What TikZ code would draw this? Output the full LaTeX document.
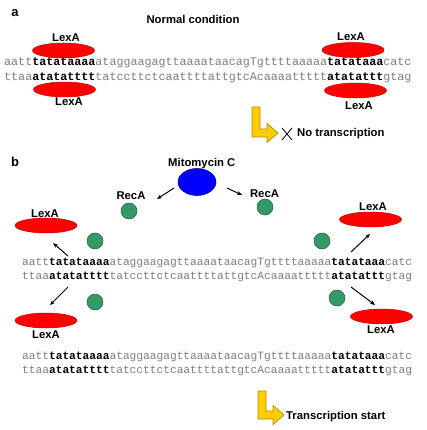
\documentclass[tikz,border=0pt]{standalone}
\usepackage{fontspec}
\setmainfont{Liberation Sans}
\setmonofont{Liberation Mono}
\usetikzlibrary{shapes.geometric,arrows.meta}
\definecolor{lexred}{HTML}{FF0000}
\definecolor{lexredd}{HTML}{C00000}
\definecolor{mitoblue}{HTML}{0000FF}
\definecolor{mitoblued}{HTML}{000099}
\definecolor{recgreen}{HTML}{339966}
\definecolor{recgreend}{HTML}{1E5E3E}
\definecolor{arrowyellow}{HTML}{FFCC00}
\definecolor{arrowyellowd}{HTML}{B38F00}
\definecolor{seqgray}{HTML}{7F7F7F}
\newcommand\bb[1]{\textbf{\color{black}#1}}
\tikzset{
  lexa/.style={ellipse, fill=lexred, draw=lexredd, line width=0.5pt, minimum width=62pt, minimum height=15pt, inner sep=0pt},
  recbead/.style={circle, fill=recgreen, draw=recgreend, line width=0.5pt, minimum size=16pt, inner sep=0pt},
  mito/.style={ellipse, fill=mitoblue, draw=mitoblued, line width=0.5pt, minimum width=38pt, minimum height=27pt, inner sep=0pt},
  lbl/.style={font=\fontsize{11.3}{13}\selectfont\bfseries, inner sep=0pt, anchor=base},
  panel/.style={font=\fontsize{13}{15}\selectfont\bfseries, inner sep=0pt, anchor=base},
  seqa/.style={font=\fontsize{11.7}{13}\selectfont\ttfamily, text=seqgray, inner sep=0pt, anchor=mid west},
  seqb/.style={font=\fontsize{11.2}{13}\selectfont\ttfamily, text=seqgray, inner sep=0pt, anchor=mid west},
  moveto/.style={draw=black, line width=1pt, -{Stealth[length=5pt,width=4pt]}},
  bentarrow/.style={fill=arrowyellow, draw=arrowyellowd, line width=0.7pt, line join=miter},
}
\begin{document}
\begin{tikzpicture}[x=1pt,y=-1pt]
\useasboundingbox (0,0) rectangle (426,430);
\fill[white] (0,0) rectangle (426,430);

% ---------- panel a ----------
\node[panel] (pa) at (15,17) {a};
\node[lbl] (normal) at (193,24) {Normal condition};

\node[lexa] (aTL) at (63.5,50.5) {};
\node[lexa] (aBL) at (64.5,89.5) {};
\node[lexa] (aTR) at (353,50) {};
\node[lexa] (aBR) at (355.5,90.5) {};
\node[lbl] (laTL) at (66,42) {LexA};
\node[lbl] (laBL) at (69,106) {LexA};
\node[lbl] (laTR) at (351,40.5) {LexA};
\node[lbl] (laBR) at (359,110) {LexA};

\node[seqa] (sa1) at (4,63) {aatt\bb{tatataaaa}ataggaagagttaaaataacagTgttttaaaaa\bb{tatataaa}catc};
\node[seqa] (sa2) at (4,78) {ttaa\bb{atatatttt}tatccttctcaattttattgtcAcaaaattttt\bb{atatattt}gtag};

\draw[bentarrow] (252,107) -- (260,107) -- (260,129) -- (267,129) -- (267,123.5)
  -- (278,133) -- (267,142.5) -- (267,137) -- (252,137) -- cycle;
\coordinate (xa) at (282,128);
\coordinate (xb) at (292,140);
\coordinate (xc) at (282,140);
\coordinate (xd) at (292,128);
\draw[line width=0.8pt] (xa) -- (xb);
\draw[line width=0.8pt] (xc) -- (xd);
\node[lbl, anchor=base west] (notr) at (297,137) {No transcription};

% ---------- panel b ----------
\node[panel] (pb) at (15,167) {b};
\node[lbl, anchor=base west] (mitoc) at (168,167) {Mitomycin C};
\node[mito] (blue) at (197,182) {};

\node[lbl] (recL) at (131,199) {RecA};
\node[lbl] (recR) at (264.5,197) {RecA};
\node[recbead] (gL) at (129,211) {};
\node[recbead] (gR) at (265,207) {};
\node[recbead] (gML) at (95,241) {};
\node[recbead] (gMR) at (322,241) {};
\node[recbead] (gBL) at (95,302) {};
\node[recbead] (gBR) at (337,298) {};

\node[lexa] (bTL) at (46,225.5) {};
\node[lexa] (bTR) at (370.5,219.5) {};
\node[lexa] (bBL) at (46,320.5) {};
\node[lexa] (bBR) at (381.5,316.5) {};
\node[lbl] (lbTL) at (45,217) {LexA};
\node[lbl] (lbTR) at (373,210) {LexA};
\node[lbl] (lbBL) at (46,338) {LexA};
\node[lbl] (lbBR) at (381,333.5) {LexA};

\node[seqb] (sb1) at (22,263) {aatt\bb{tatataaaa}ataggaagagttaaaataacagTgttttaaaaa\bb{tatataaa}catc};
\node[seqb] (sb2) at (22,277) {ttaa\bb{atatatttt}tatccttctcaattttattgtcAcaaaattttt\bb{atatattt}gtag};

\coordinate (m1s) at (174,188); \coordinate (m1e) at (157,199);
\coordinate (m2s) at (227,188); \coordinate (m2e) at (242,195);
\coordinate (u1s) at (68,256);  \coordinate (u1e) at (53,243);
\coordinate (u2s) at (351,252); \coordinate (u2e) at (370,234);
\coordinate (d1s) at (68,287);  \coordinate (d1e) at (50,305);
\coordinate (d2s) at (351,287); \coordinate (d2e) at (375,305);
\draw[moveto] (m1s) -- (m1e);
\draw[moveto] (m2s) -- (m2e);
\draw[moveto] (u1s) -- (u1e);
\draw[moveto] (u2s) -- (u2e);
\draw[moveto] (d1s) -- (d1e);
\draw[moveto] (d2s) -- (d2e);

\node[seqb] (sc1) at (22,357) {aatt\bb{tatataaaa}ataggaagagttaaaataacagTgttttaaaaa\bb{tatataaa}catc};
\node[seqb] (sc2) at (22,371) {ttaa\bb{atatatttt}tatccttctcaattttattgtcAcaaaattttt\bb{atatattt}gtag};

\draw[bentarrow] (258,391) -- (266,391) -- (266,411) -- (273,411) -- (273,405.5)
  -- (284,415) -- (273,424.5) -- (273,419) -- (258,419) -- cycle;
\node[lbl, anchor=base west] (trs) at (286,419) {Transcription start};
\end{tikzpicture}
\end{document}
